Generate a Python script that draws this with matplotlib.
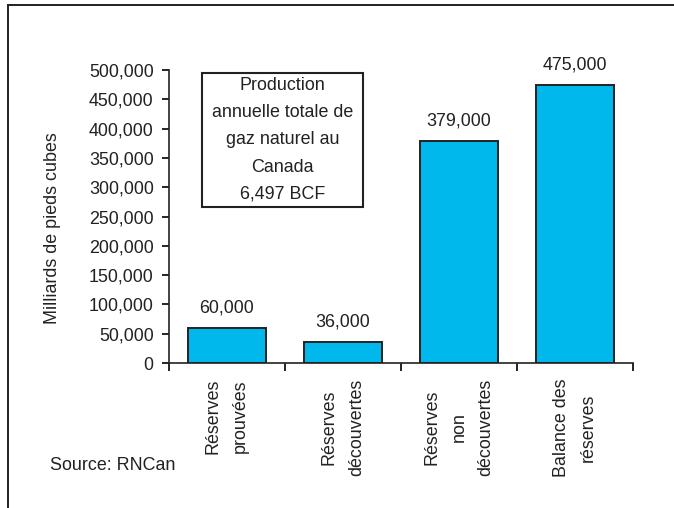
import matplotlib.pyplot as plt
from matplotlib.patches import Rectangle
from matplotlib.lines import Line2D

plt.rcParams['font.family'] = ['Liberation Sans', 'DejaVu Sans']

categories = ["Réserves\nprouvées", "Réserves\ndécouvertes",
              "Réserves\nnon\ndécouvertes", "Balance des\nréserves"]
values = [60000, 36000, 379000, 475000]
value_labels = ["60,000", "36,000", "379,000", "475,000"]
yticks = [0, 50000, 100000, 150000, 200000, 250000, 300000, 350000, 400000, 450000, 500000]
ytick_labels = ["0", "50,000", "100,000", "150,000", "200,000", "250,000",
                "300,000", "350,000", "400,000", "450,000", "500,000"]
box_text = "Production\nannuelle totale de\ngaz naturel au\nCanada\n6,497 BCF"

txt = "#222222"
fs = 12.9

fig = plt.figure(figsize=(6.74, 5.08), dpi=100)
ax = fig.add_axes([169 / 674, 1 - 363 / 508, 464 / 674, 293 / 508])

x = list(range(len(values)))
ax.bar(x, values, width=0.67, color="#00B8EC", edgecolor="#222222", linewidth=1.4)

for xi, v, lab in zip(x, values, value_labels):
    ax.annotate(lab, (xi, v), xytext=(0, 11), textcoords="offset points",
                ha="center", va="baseline", fontsize=fs, color=txt)

ax.set_xlim(-0.5, len(values) - 0.5)
ax.set_ylim(0, 500000)
ax.set_yticks(yticks)
ax.set_yticklabels(ytick_labels, fontsize=fs, color=txt)
ax.tick_params(axis="y", length=5, width=1.2, direction="out", pad=6)

ax.set_xticks(x)
ax.set_xticklabels(categories, rotation=90, fontsize=fs, color=txt,
                   linespacing=1.78, ha="center", va="top", multialignment="center")
ax.tick_params(axis="x", which="major", length=0, pad=11)
ax.set_xticks([i - 0.5 for i in range(len(values) + 1)], minor=True)
ax.tick_params(axis="x", which="minor", length=6, width=1.2, direction="out")

for s in ["top", "right"]:
    ax.spines[s].set_visible(False)
for s in ["left", "bottom"]:
    ax.spines[s].set_linewidth(1.2)
    ax.spines[s].set_color("#222222")

ax.set_ylabel("Milliards de pieds cubes", fontsize=fs, color=txt)
ax.yaxis.set_label_coords((61 - 169) / 464, (363 - 228) / 293)

# info box
bx0, bx1 = (202 - 169) / 464, (363 - 169) / 464
by0, by1 = (363 - 207) / 293, (363 - 73) / 293
ax.add_patch(Rectangle((bx0, by0), bx1 - bx0, by1 - by0, transform=ax.transAxes,
                       facecolor="white", edgecolor="#222222", linewidth=1.5,
                       clip_on=False, zorder=5))
ax.text((bx0 + bx1) / 2, (by0 + by1) / 2, box_text, transform=ax.transAxes,
        ha="center", va="center", fontsize=fs, color=txt, linespacing=1.78,
        multialignment="center", zorder=6)

fig.text(50 / 674, 1 - 466 / 508, "Source: RNCan", fontsize=fs, color=txt,
         ha="left", va="center")

# outer frame (only left and top edges visible)
fig.add_artist(Line2D([8 / 674, 8 / 674], [0, 1 - 5 / 508], transform=fig.transFigure,
                      color="#222222", linewidth=1.4))
fig.add_artist(Line2D([8 / 674, 1], [1 - 5 / 508, 1 - 5 / 508], transform=fig.transFigure,
                      color="#222222", linewidth=1.4))

fig.savefig("out.png", dpi=100)
